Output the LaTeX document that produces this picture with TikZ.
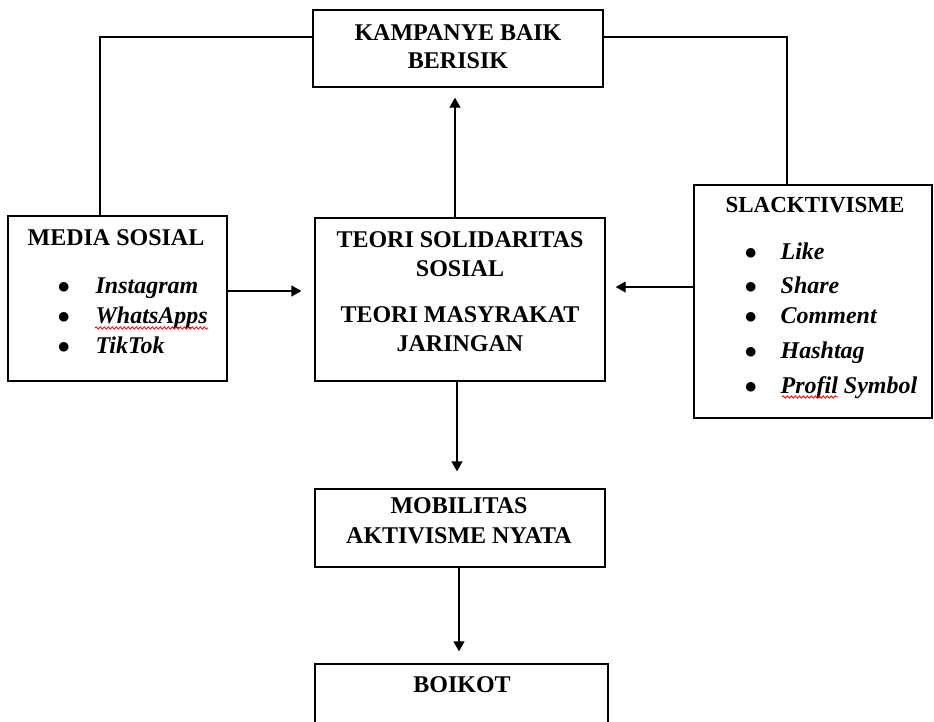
\documentclass[tikz,border=0pt]{standalone}
\usepackage{fontspec}
\setmainfont{Liberation Serif}
\usepackage{tikz}
\usetikzlibrary{arrows.meta, positioning, calc, decorations.pathmorphing}

\begin{document}
\begin{tikzpicture}[x=1pt, y=-1pt, line width=1.3pt,
		>={Triangle[length=10pt, width=11pt]},
		kotak/.style={draw, rectangle, inner sep=0pt},
		judul/.style={font=\bfseries\fontsize{24}{29}\selectfont, inner sep=0pt, align=center},
		butir/.style={font=\bfseries\itshape\fontsize{24}{30}\selectfont, inner sep=0pt, align=left},
		salah/.style={red, line width=0.8pt, decorate, decoration={snake, amplitude=1.2pt, segment length=4pt}}]
		\useasboundingbox (0,0) rectangle (934,721);
		\clip (0,0) rectangle (934,721);

		\node[kotak, minimum width=290pt, minimum height=77pt] (Kampanye) at (458,48.5) {};
		\node[kotak, minimum width=219pt, minimum height=165pt] (Media sosial) at (117.5,298.5) {};
		\node[kotak, minimum width=290pt, minimum height=163pt] (Teori) at (460,299.5) {};
		\node[kotak, minimum width=238pt, minimum height=233pt] (Slacktivisme) at (813,301.5) {};
		\node[kotak, minimum width=290pt, minimum height=78pt] (Mobilitas) at (460,528) {};
		\node[kotak, minimum width=293pt, minimum height=90pt] (Boikot) at (461.5,709) {};

		\node[judul, anchor=north] (Kampanye teks) at (458,24) {KAMPANYE BAIK\\[-1pt]
			BERISIK};
		\node[judul, anchor=base] (Media judul) at (116,245) {MEDIA SOSIAL};
		\node[butir, anchor=north west] (Media daftar) at (57,277) {\makebox[38pt][l]{$\bullet$}Instagram\\
			\makebox[38pt][l]{$\bullet$}WhatsApps\\[0.5pt]
			\makebox[38pt][l]{$\bullet$}TikTok};
		\node[judul, anchor=north] (Teori teks) at (460,231) {TEORI SOLIDARITAS\\
			SOSIAL\\[17pt]
			TEORI MASYRAKAT\\
			JARINGAN};
		\node[judul, anchor=base, font=\bfseries\fontsize{23}{28}\selectfont] (Slack judul) at (815,212) {SLACKTIVISME};
		\node[butir, anchor=north west] (Slack daftar) at (744,242) {\makebox[36pt][l]{$\bullet$}Like\\[4pt]
			\makebox[36pt][l]{$\bullet$}Share\\
			\makebox[36pt][l]{$\bullet$}Comment\\[5pt]
			\makebox[36pt][l]{$\bullet$}Hashtag\\[5pt]
			\makebox[36pt][l]{$\bullet$}Profil Symbol};
		\node[judul, anchor=north] (Mobilitas teks) at (459,497) {MOBILITAS\\[1pt]
			AKTIVISME NYATA};
		\node[judul, anchor=base] (Boikot teks) at (462,692) {BOIKOT};

		\draw ([xshift=-17.5pt]Media sosial.north) |- ([yshift=11.5pt]Kampanye.west);
		\draw ([yshift=11.5pt]Kampanye.east) -| ([xshift=-26pt]Slacktivisme.north);
		\draw[->, shorten >=10pt] ([xshift=-5pt]Teori.north) -- ([xshift=-3pt]Kampanye.south);
		\draw[->, shorten >=13pt] ([yshift=7.5pt]Media sosial.east) -- ([yshift=8.5pt]Teori.west);
		\draw[->, shorten >=10pt] ([yshift=14.5pt]Slacktivisme.west) -- ([yshift=12.5pt]Teori.east);
		\draw[->, shorten >=17pt] ([xshift=-3pt]Teori.south) -- ([xshift=-3pt]Mobilitas.north);
		\draw[->, shorten >=12pt] ([xshift=-1pt]Mobilitas.south) -- ([xshift=-2.5pt]Boikot.north);

		\draw[salah] (95,328) -- (208,328);
		\draw[salah] (782,397) -- (838,397);
	\end{tikzpicture}
\end{document}
